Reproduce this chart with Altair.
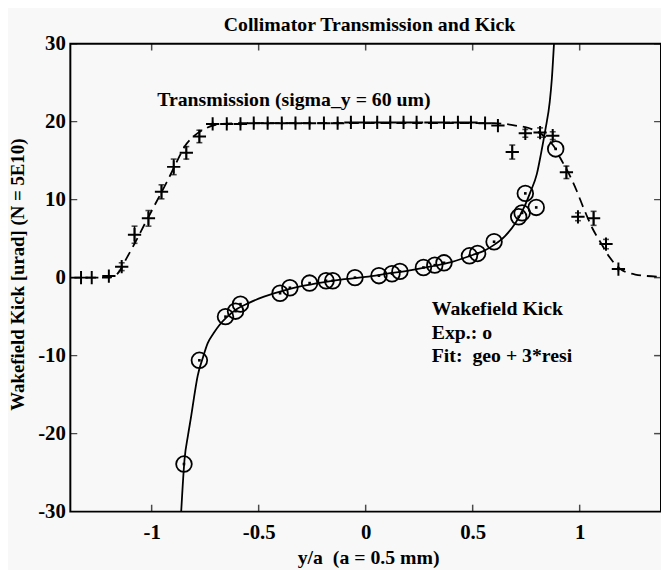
import altair as alt
import pandas as pd

FONT = "Liberation Serif, Times New Roman, serif"

# ---- transmission measurements (plus markers, scaled 0..20) ----
trans_x = [-1.33, -1.28, -1.20, -1.14, -1.08, -1.015, -0.954, -0.897, -0.838, -0.777,
           -0.715, -0.649, -0.585, -0.523, -0.458, -0.392, -0.328, -0.262, -0.195, -0.131,
           -0.069, -0.008, 0.054, 0.115, 0.177, 0.238, 0.305, 0.366, 0.431, 0.492,
           0.558, 0.618, 0.685, 0.746, 0.815, 0.874, 0.938, 0.992, 1.065, 1.123, 1.181]
trans_y = [0.0, 0.0, 0.2, 1.4, 5.5, 7.6, 11.0, 14.2, 16.0, 18.1,
           19.7, 19.7, 19.7, 19.8, 19.8, 19.8, 19.8, 19.8, 19.8, 19.8,
           19.9, 19.9, 19.9, 19.9, 19.9, 19.9, 19.9, 19.9, 19.9, 19.9,
           19.8, 19.5, 16.1, 18.5, 18.6, 18.2, 13.5, 7.8, 7.6, 4.3, 1.1]
trans_err = [0.0, 0.0, 0.0, 0.5, 1.1, 1.0, 0.9, 1.0, 0.8, 0.8,
             0.3, 0.3, 0.3, 0.3, 0.3, 0.3, 0.3, 0.3, 0.3, 0.3,
             0.3, 0.3, 0.3, 0.3, 0.3, 0.3, 0.3, 0.3, 0.3, 0.3,
             0.3, 0.3, 0.9, 0.5, 0.6, 0.5, 0.8, 0.5, 0.9, 0.6, 0.3]

# ---- transmission fit (dashed) ----
tfit_x = [-1.38, -1.20, -1.16, -1.115, -1.077, -1.03, -0.98, -0.93, -0.88, -0.846, -0.80,
          -0.75, -0.70, -0.60, 0.0, 0.60, 0.70, 0.78, 0.84, 0.88, 0.91, 0.95, 0.985, 1.02,
          1.06, 1.10, 1.14, 1.19, 1.26, 1.38]
tfit_y = [0.0, 0.0, 0.5, 2.6, 4.5, 7.0, 9.6, 12.2, 15.0, 16.8, 18.2,
          19.1, 19.6, 19.8, 19.8, 19.8, 19.5, 19.0, 18.0, 16.8, 15.3, 13.3, 11.2, 8.8,
          6.3, 4.4, 2.6, 1.1, 0.4, 0.1]

# ---- wakefield kick measurements (circles) ----
kick_x = [-0.849, -0.777, -0.655, -0.608, -0.585, -0.40, -0.354, -0.262, -0.185, -0.154,
          -0.05, 0.062, 0.123, 0.16, 0.27, 0.323, 0.366, 0.485, 0.523, 0.60,
          0.715, 0.731, 0.746, 0.797, 0.888]
kick_y = [-23.9, -10.6, -5.0, -4.3, -3.4, -2.0, -1.3, -0.7, -0.4, -0.4,
          0.0, 0.25, 0.5, 0.8, 1.3, 1.6, 1.9, 2.8, 3.1, 4.6,
          7.8, 8.3, 10.8, 9.0, 16.5]

# ---- kick fit: geo + 3*resi (solid) ----
kfit_x = [-0.862, -0.846, -0.83, -0.815, -0.80, -0.785, -0.76, -0.738, -0.71, -0.684,
          -0.65, -0.60, -0.55, -0.50, -0.45, -0.40, -0.30, -0.20, -0.10, 0.0,
          0.10, 0.20, 0.30, 0.40, 0.50, 0.55, 0.60, 0.65, 0.70, 0.74,
          0.77, 0.80, 0.82, 0.84, 0.86, 0.87, 0.88]
kfit_y = [-30.0, -23.2, -20.2, -17.7, -15.0, -12.6, -10.2, -8.4, -7.1, -6.1,
          -5.1, -4.0, -3.3, -2.7, -2.2, -1.8, -1.1, -0.6, -0.2, 0.1,
          0.5, 0.9, 1.4, 2.0, 2.9, 3.4, 4.2, 5.3, 7.0, 9.0,
          11.0, 13.3, 16.0, 19.0, 22.5, 25.5, 30.0]

x_ticks = [-1, -0.5, 0, 0.5, 1]
y_ticks = [-30, -20, -10, 0, 10, 20, 30]
x_dom = [-1.38, 1.38]
y_dom = [-30, 30]

title_text = "Collimator Transmission and Kick"
title_x = [0.018]
title_y = [31.65]

notes_x = [-0.974, 0.309, 0.309, 0.309]
notes_y = [22.0, -4.8, -7.85, -10.76]
notes_t = ["Transmission (sigma_y = 60 um)", "Wakefield Kick", "Exp.: o",
           "Fit:\u00a0 geo + 3*resi"]

trans = pd.DataFrame({"x": trans_x, "y": trans_y, "err": trans_err})
trans["lo"] = trans["y"] - trans["err"]
trans["hi"] = trans["y"] + trans["err"]
tfit = pd.DataFrame({"x": tfit_x, "y": tfit_y})
kick = pd.DataFrame({"x": kick_x, "y": kick_y})
kfit = pd.DataFrame({"x": kfit_x, "y": kfit_y})
notes = pd.DataFrame({"x": notes_x, "y": notes_y, "t": notes_t})
ttl = pd.DataFrame({"x": title_x, "y": title_y, "t": [title_text]})
xt = pd.DataFrame({"x": x_ticks, "lo": [y_dom[0]] * len(x_ticks), "hi": [y_dom[1]] * len(x_ticks)})
yt = pd.DataFrame({"y": y_ticks, "lo": [x_dom[0]] * len(y_ticks), "hi": [x_dom[1]] * len(y_ticks)})

xs = alt.Scale(domain=x_dom, nice=False, zero=False)
ys = alt.Scale(domain=y_dom, nice=False, zero=False)

x_axis = alt.Axis(values=x_ticks, labelExpr="'' + datum.value", tickSize=0, domain=False,
                  grid=False, labelFont=FONT, labelFontSize=21, labelFontWeight="bold",
                  labelColor="black", labelPadding=10,
                  title="y/a\u00a0 (a = 0.5 mm)", titleFont=FONT, titleFontSize=20,
                  titleFontWeight="bold", titleColor="black", titleBaseline="alphabetic",
                  titleY=52, titleX=301, titleAnchor="start", titleAlign="center")
y_axis = alt.Axis(values=y_ticks, labelExpr="'' + datum.value", tickSize=0, domain=False,
                  grid=False, labelFont=FONT, labelFontSize=21, labelFontWeight="bold",
                  labelColor="black", labelPadding=5,
                  title="Wakefield Kick [urad] (N = 5E10)", titleFont=FONT, titleFontSize=19,
                  titleFontWeight="bold", titleColor="black", titleBaseline="alphabetic",
                  titleAngle=270, titleX=-47, titleY=233, titleAlign="center")

X = alt.X("x:Q", scale=xs, axis=x_axis)
Y = alt.Y("y:Q", scale=ys, axis=y_axis)
Xp = alt.X("x:Q", scale=xs)
Yp = alt.Y("y:Q", scale=ys)

kfit_line = alt.Chart(kfit).mark_line(color="black", strokeWidth=1.8, interpolate="monotone",
                                      clip=True).encode(x=X, y=Y)
tfit_line = alt.Chart(tfit).mark_line(color="black", strokeWidth=1.8, strokeDash=[10, 6],
                                      interpolate="monotone", clip=True).encode(x=Xp, y=Yp)
err_rule = alt.Chart(trans).mark_rule(color="black", strokeWidth=1.6).encode(
    x=Xp, y=alt.Y("lo:Q", scale=ys), y2="hi:Q")
err_cap_lo = alt.Chart(trans[trans["err"] > 0.45]).mark_tick(
    color="black", orient="horizontal", size=6, thickness=1.6).encode(
    x=Xp, y=alt.Y("lo:Q", scale=ys))
err_cap_hi = alt.Chart(trans[trans["err"] > 0.45]).mark_tick(
    color="black", orient="horizontal", size=6, thickness=1.6).encode(
    x=Xp, y=alt.Y("hi:Q", scale=ys))
plus = alt.Chart(trans).mark_point(shape="M-1,0L1,0M0,-1L0,1", size=180, filled=False,
                                   color="black", strokeWidth=2, opacity=1).encode(x=Xp, y=Yp)
circles = alt.Chart(kick).mark_point(shape="circle", size=250, filled=False, color="black",
                                     strokeWidth=1.8, opacity=1).encode(x=Xp, y=Yp)
dots = alt.Chart(kick).mark_point(shape="square", size=7, filled=True, color="black",
                                  opacity=1).encode(x=Xp, y=Yp)
texts = alt.Chart(notes).mark_text(align="left", baseline="alphabetic", font=FONT,
                                   fontSize=20, fontWeight="bold", color="black").encode(
    x=Xp, y=Yp, text="t:N")
title_mark = alt.Chart(ttl).mark_text(align="center", baseline="alphabetic", font=FONT,
                                      fontSize=20, fontWeight="bold", color="black",
                                      clip=False).encode(x=Xp, y=Yp, text="t:N")

tick_b = alt.Chart(xt).mark_tick(color="black", orient="vertical", size=14, thickness=1.5,
                                 clip=True).encode(x=Xp, y=alt.Y("lo:Q", scale=ys))
tick_t = alt.Chart(xt).mark_tick(color="black", orient="vertical", size=14, thickness=1.5,
                                 clip=True).encode(x=Xp, y=alt.Y("hi:Q", scale=ys))
tick_l = alt.Chart(yt).mark_tick(color="black", orient="horizontal", size=14, thickness=1.5,
                                 clip=True).encode(x=alt.X("lo:Q", scale=xs), y=alt.Y("y:Q", scale=ys))
tick_r = alt.Chart(yt).mark_tick(color="black", orient="horizontal", size=14, thickness=1.5,
                                 clip=True).encode(x=alt.X("hi:Q", scale=xs), y=alt.Y("y:Q", scale=ys))

chart = alt.layer(
    kfit_line, tfit_line, err_rule, err_cap_lo, err_cap_hi, plus, circles, dots, texts,
    title_mark, tick_b, tick_t, tick_l, tick_r
).properties(
    width=597, height=473,
    padding={"left": 63, "top": 33, "right": 0, "bottom": 57},
    autosize=alt.AutoSizeParams(type="none"),
    background="#f8f8f8",
).configure_view(stroke="black", strokeWidth=2)

chart.save("out.html", embed_options={"renderer": "svg", "actions": False})
